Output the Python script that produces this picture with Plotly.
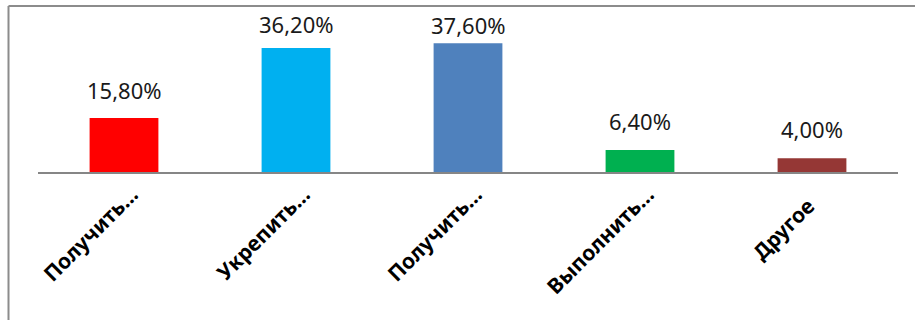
import plotly.graph_objects as go

# Survey answers (share of respondents, %)
categories = ["Получить…", "Укрепить…", "Получить…", "Выполнить…", "Другое"]
values = [15.8, 36.2, 37.6, 6.4, 4.0]
bar_colors = ["#FF0000", "#00B0F0", "#4F81BD", "#00B050", "#953735"]
# extra lift of each value label above its bar, px
label_lift = [11, 7, 1, 12, 12]

W, H = 915, 320
ml, mr, mt, mb = 38, 17, 35, 148
pw, ph = W - ml - mr, H - mt - mb

positions = list(range(len(categories)))

# untruncated labels sit a little further along the diagonal
tick_text = [c if c.endswith("…") else c + "\u00a0" * 3 for c in categories]

fig = go.Figure(go.Bar(
    x=positions,
    y=values,
    marker=dict(color=bar_colors, line=dict(width=0)),
    width=0.4,
    hoverinfo="skip",
))

def fmt(v):
    return f"{v:.2f}".replace(".", ",") + "%"

for pos, v, lift in zip(positions, values, label_lift):
    fig.add_annotation(
        x=pos, y=v, text=fmt(v), showarrow=False,
        xanchor="center", yanchor="bottom", yshift=lift,
        font=dict(family="Noto Sans", size=22, color="#1a1a1a"),
    )

# chart-area frame (only top and left edges fall inside the page)
fx = (8.5 - ml) / pw
fy = (ph + mt - 6) / ph
fig.add_shape(type="line", xref="paper", yref="paper",
              x0=fx, x1=(W + 5 - ml) / pw, y0=fy, y1=fy,
              line=dict(color="#8c8c8c", width=2))
fig.add_shape(type="line", xref="paper", yref="paper",
              x0=fx, x1=fx, y0=fy, y1=-(H - mt) / ph,
              line=dict(color="#8c8c8c", width=2))

fig.update_layout(
    width=W, height=H,
    margin=dict(l=ml, r=mr, t=mt, b=mb),
    paper_bgcolor="white", plot_bgcolor="white",
    showlegend=False,
    xaxis=dict(
        range=[-0.5, len(categories) - 0.5],
        tickmode="array", tickvals=positions, ticktext=tick_text,
        showline=True, linecolor="#868686", linewidth=2,
        ticks="", tickangle=-45, ticklabelshift=8,
        tickfont=dict(family="Noto Sans", size=21, color="black", weight="bold"),
        showgrid=False, zeroline=False,
    ),
    yaxis=dict(range=[0, 40], visible=False, showgrid=False, zeroline=False),
)

fig.write_html("out.html")
